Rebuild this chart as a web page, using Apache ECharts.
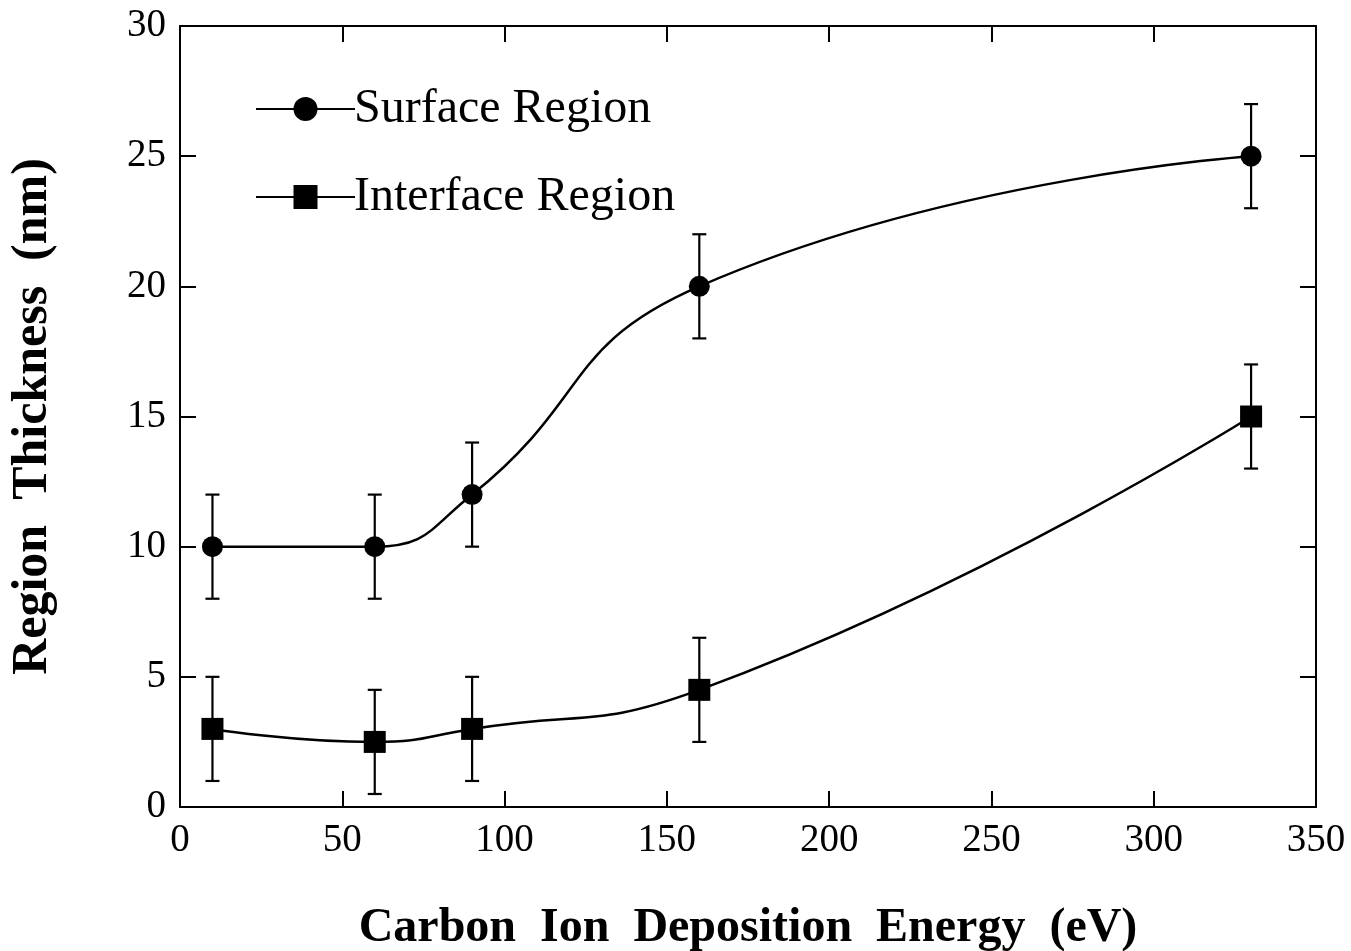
<!DOCTYPE html>
<html><head><meta charset="utf-8">
<script src="https://cdn.jsdelivr.net/npm/echarts@6/dist/echarts.min.js"></script>
<style>html,body{margin:0;padding:0;background:#fff}#c{width:1351px;height:951px}</style>
</head><body><div id="c"></div>
<script>
const energy = [10, 60, 90, 160, 330];
const surface = [10, 10, 12, 20, 25];
const surfaceErr = [2, 2, 2, 2, 2];
const interfaceVals = [3, 2.5, 3, 4.5, 15];
const interfaceErr = [2, 2, 2, 2, 2];
const xTicks = [0, 50, 100, 150, 200, 250, 300, 350];
const yTicks = [0, 5, 10, 15, 20, 25, 30];

const FONT = '"Liberation Serif", "Times New Roman", serif';
const chart = echarts.init(document.getElementById('c'), null, {renderer: 'canvas'});

function pairs(xs, ys) { return xs.map((x, i) => [x, ys[i]]); }
function errData(xs, ys, es) { return xs.map((x, i) => [x, ys[i] - es[i], ys[i] + es[i]]); }

function errRender(params, api) {
  const x = api.value(0);
  const lo = api.coord([x, api.value(1)]);
  const hi = api.coord([x, api.value(2)]);
  const w = 7;
  const st = {stroke: '#000', lineWidth: 2.2};
  return {type: 'group', children: [
    {type: 'line', shape: {x1: lo[0], y1: lo[1], x2: hi[0], y2: hi[1]}, style: st},
    {type: 'line', shape: {x1: lo[0] - w, y1: lo[1], x2: lo[0] + w, y2: lo[1]}, style: st},
    {type: 'line', shape: {x1: hi[0] - w, y1: hi[1], x2: hi[0] + w, y2: hi[1]}, style: st}
  ]};
}

const axisCommon = {
  axisLine: {show: true, onZero: false, lineStyle: {color: '#000', width: 2}},
  axisTick: {show: true, inside: true, length: 16, lineStyle: {color: '#000', width: 2}},
  splitLine: {show: false}
};

chart.setOption({
  backgroundColor: '#fff',
  animation: false,
  grid: {left: 180, right: 35, top: 26, bottom: 144, containLabel: false, outerBoundsMode: 'none'},
  legend: {
    orient: 'vertical', left: 250, top: 80, itemGap: 40,
    itemWidth: 99, itemHeight: 30,
    textStyle: {fontFamily: FONT, fontSize: 48, color: '#000', padding: [0, 0, 0, -6]},
    data: ['Surface Region', 'Interface Region']
  },
  xAxis: [
    Object.assign({
      type: 'value', min: xTicks[0], max: xTicks[xTicks.length - 1], interval: 50, position: 'bottom',
      name: 'Carbon  Ion  Deposition  Energy  (eV)', nameLocation: 'middle', nameGap: 98,
      nameTextStyle: {fontFamily: FONT, fontSize: 48, fontWeight: 'bold', color: '#000'},
      axisLabel: {fontFamily: FONT, fontSize: 39, color: '#000', margin: 14}
    }, axisCommon),
    Object.assign({
      type: 'value', min: xTicks[0], max: xTicks[xTicks.length - 1], interval: 50, position: 'top',
      axisLabel: {show: false}
    }, axisCommon)
  ],
  yAxis: [
    Object.assign({
      type: 'value', min: yTicks[0], max: yTicks[yTicks.length - 1], interval: 5, position: 'left',
      name: 'Region  Thickness  (nm)', nameLocation: 'middle', nameGap: 122,
      nameTextStyle: {fontFamily: FONT, fontSize: 50, fontWeight: 'bold', color: '#000'},
      axisLabel: {fontFamily: FONT, fontSize: 39, color: '#000', margin: 14}
    }, axisCommon),
    Object.assign({
      type: 'value', min: yTicks[0], max: yTicks[yTicks.length - 1], interval: 5, position: 'right',
      axisLabel: {show: false}
    }, axisCommon)
  ],
  series: [
    {type: 'custom', name: 'errS', renderItem: errRender, data: errData(energy, surface, surfaceErr), z: 1, silent: true},
    {type: 'custom', name: 'errI', renderItem: errRender, data: errData(energy, interfaceVals, interfaceErr), z: 1, silent: true},
    {type: 'line', name: 'Surface Region', data: pairs(energy, surface), smooth: 0.5,
      symbol: 'circle', symbolSize: 21, showAllSymbol: true,
      lineStyle: {color: '#000', width: 2.5}, itemStyle: {color: '#000'}, z: 3},
    {type: 'line', name: 'Interface Region', data: pairs(energy, interfaceVals), smooth: 0.5,
      symbol: 'rect', symbolSize: 22, showAllSymbol: true,
      lineStyle: {color: '#000', width: 2.5}, itemStyle: {color: '#000'}, z: 3}
  ]
});
</script></body></html>
